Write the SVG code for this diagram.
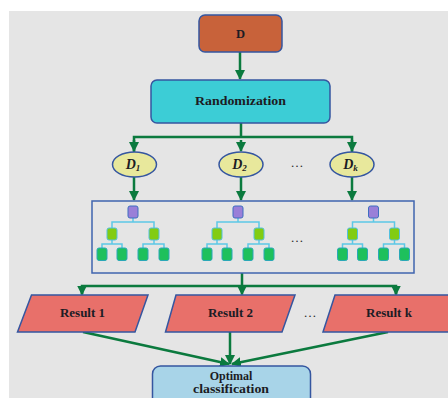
<svg xmlns="http://www.w3.org/2000/svg" xmlns:xlink="http://www.w3.org/1999/xlink" width="448" height="398" viewBox="0 0 448 398">
  <style>
    .lbl { font-family: "Liberation Serif", "DejaVu Serif", serif; font-weight: bold; fill: #1c1c24; text-anchor: middle; }
    .dl { font-family: "Liberation Serif", "DejaVu Serif", serif; font-style: italic; font-weight: bold; fill: #1c1c24; text-anchor: middle; }
    .dots { font-family: "Liberation Serif", serif; font-size: 13px; fill: #2a2a2a; text-anchor: middle; }
    .edge { stroke: #0b7a3e; stroke-width: 2.5; fill: none; }
    .box { stroke: #3556a0; stroke-width: 1.5; }
    .tl { stroke: #5cc8e6; stroke-width: 1.5; fill: none; }
    .tr { fill: #9a7fd8; stroke: #3f6fc0; stroke-width: 1; }
    .tm { fill: #82cc12; stroke: #52c0e0; stroke-width: 1; }
    .tf { fill: #1ec05c; stroke: #2aa8b8; stroke-width: 1; }
  </style>
  <defs>
    <marker id="arr" viewBox="0 0 10 10" refX="9" refY="5" markerWidth="4" markerHeight="4" orient="auto" markerUnits="strokeWidth">
      <path d="M0,0 L10,5 L0,10 z" fill="#0b7a3e"/>
    </marker>
    <!-- one decision tree, centred on x = 0 -->
    <g id="tree">
      <path class="tl" d="M0,218 V222 M-21,228 V222 H21 V228 M-21,240 V244 M-31,248 V244 H-11 V248 M21,240 V244 M10,248 V244 H31 V248"/>
      <rect class="tr" x="-5" y="206" width="10" height="12" rx="2"/>
      <rect class="tm" x="-26" y="228" width="10" height="12" rx="2"/>
      <rect class="tm" x="16" y="228" width="10" height="12" rx="2"/>
      <rect class="tf" x="-36" y="248" width="10" height="12.5" rx="2"/>
      <rect class="tf" x="-16" y="248" width="10" height="12.5" rx="2"/>
      <rect class="tf" x="5" y="248" width="10" height="12.5" rx="2"/>
      <rect class="tf" x="26" y="248" width="10" height="12.5" rx="2"/>
    </g>
  </defs>

  <!-- page background -->
  <rect x="9" y="11" width="439" height="387" fill="#e5e5e5"/>

  <!-- connectors -->
  <g id="connectors">
    <path class="edge" d="M240,52 V79" marker-end="url(#arr)"/>
    <path class="edge" d="M241,123 V137 M134,152 V137 H352 V152"/>
    <path class="edge" d="M134,140 V151" marker-end="url(#arr)"/>
    <path class="edge" d="M241,140 V151" marker-end="url(#arr)"/>
    <path class="edge" d="M352,140 V151" marker-end="url(#arr)"/>
    <path class="edge" d="M134,177 V200" marker-end="url(#arr)"/>
    <path class="edge" d="M241,177 V200" marker-end="url(#arr)"/>
    <path class="edge" d="M352,177 V200" marker-end="url(#arr)"/>
    <path class="edge" d="M242,273 V286 M82,294 V286 H396 V294"/>
    <path class="edge" d="M82,289 V294.5" marker-end="url(#arr)"/>
    <path class="edge" d="M242,289 V294.5" marker-end="url(#arr)"/>
    <path class="edge" d="M396,289 V294.5" marker-end="url(#arr)"/>
    <path class="edge" d="M83,332 L229,364" marker-end="url(#arr)"/>
    <path class="edge" d="M230,332 V364" marker-end="url(#arr)"/>
    <path class="edge" d="M388,332 L232,364" marker-end="url(#arr)"/>
  </g>

  <g id="node-d">
    <rect class="box" x="199" y="15" width="83" height="37" rx="6" fill="#c8623a"/>
    <text class="lbl" x="240.5" y="37.5" font-size="12.5">D</text>
  </g>

  <g id="node-randomization">
    <rect class="box" x="151" y="80" width="179" height="43" rx="6" fill="#3ccdd6"/>
    <text class="lbl" x="240.5" y="105" font-size="12.5" textLength="91" lengthAdjust="spacingAndGlyphs">Randomization</text>
  </g>

  <g id="node-d1">
    <ellipse class="box" cx="134.5" cy="164.5" rx="22" ry="12.5" fill="#e8e89c"/>
    <text class="dl" x="133" y="169" font-size="14">D<tspan font-size="9" dy="2">1</tspan></text>
  </g>
  <g id="node-d2">
    <ellipse class="box" cx="241" cy="164.5" rx="22" ry="12.5" fill="#e8e89c"/>
    <text class="dl" x="239.5" y="169" font-size="14">D<tspan font-size="9" dy="2">2</tspan></text>
  </g>
  <text class="dots" x="297" y="167">…</text>
  <g id="node-dk">
    <ellipse class="box" cx="352" cy="164.5" rx="22" ry="12.5" fill="#e8e89c"/>
    <text class="dl" x="350.5" y="169" font-size="14">D<tspan font-size="9" dy="2">k</tspan></text>
  </g>

  <g id="node-forest">
    <rect x="92" y="201" width="322" height="72" fill="none" stroke="#3f64ae" stroke-width="1.5"/>
    <use xlink:href="#tree" transform="translate(133,0)"/>
    <use xlink:href="#tree" transform="translate(238,0)"/>
    <use xlink:href="#tree" transform="translate(373.5,0)"/>
    <text class="dots" x="297" y="242">…</text>
  </g>

  <g id="node-result1">
    <polygon class="box" points="31.5,295 148,295 135,332 17.5,332" fill="#e8706a"/>
    <text class="lbl" x="82.5" y="317" font-size="13">Result 1</text>
  </g>
  <g id="node-result2">
    <polygon class="box" points="176,295 295,295 282,332 165.5,332" fill="#e8706a"/>
    <text class="lbl" x="230.5" y="317" font-size="13">Result 2</text>
  </g>
  <text class="dots" x="310" y="317">…</text>
  <g id="node-resultk">
    <polygon class="box" points="335,295 462,295 450,332 323,332" fill="#e8706a"/>
    <text class="lbl" x="389" y="317" font-size="13">Result k</text>
  </g>

  <g id="node-optimal">
    <rect class="box" x="152.5" y="366" width="158" height="44" rx="8" fill="#a8d4e8"/>
    <text class="lbl" x="231" y="380" font-size="12">Optimal</text>
    <text class="lbl" x="231" y="393" font-size="12" textLength="76" lengthAdjust="spacingAndGlyphs">classification</text>
  </g>
</svg>
